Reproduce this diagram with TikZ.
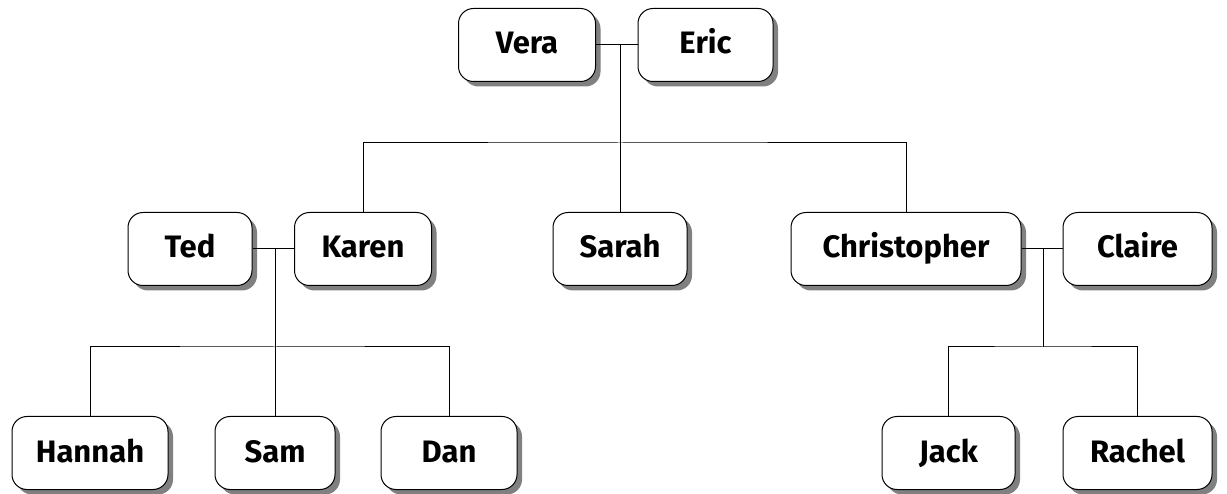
\documentclass[tikz,border=0pt]{standalone}
\usepackage{fontspec}
\setmainfont{Fira Sans}
\usetikzlibrary{shadows,calc}
\begin{document}
\begin{tikzpicture}[x=1pt,y=-1pt,
  person/.style={draw=black, line width=1pt, fill=white, rounded corners=15pt,
    minimum height=73pt, inner sep=0pt, text height=22pt, text depth=4pt,
    font=\fontsize{31}{34}\selectfont\bfseries,
    drop shadow={shadow xshift=5pt, shadow yshift=-5pt, fill=black!50, opacity=1}},
  link/.style={draw=black, line width=1pt}]
\useasboundingbox (0,0) rectangle (1227,494);
% generation 1
\node[person, minimum width=137pt] (Vera) at (527,45) {Vera};
\node[person, minimum width=135pt] (Eric) at (705.5,45) {Eric};
% generation 2
\node[person, minimum width=124pt] (Ted) at (190,249) {Ted};
\node[person, minimum width=137pt] (Karen) at (363,249) {Karen};
\node[person, minimum width=134pt] (Sarah) at (620,249) {Sarah};
\node[person, minimum width=230pt] (Christopher) at (906,249) {Christopher};
\node[person, minimum width=149pt] (Claire) at (1137.5,249) {Claire};
% generation 3
\node[person, minimum width=156pt] (Hannah) at (90,453) {Hannah};
\node[person, minimum width=120pt] (Sam) at (275,453) {Sam};
\node[person, minimum width=136pt] (Dan) at (449,453) {Dan};
\node[person, minimum width=133pt] (Jack) at (948.5,453) {Jack};
\node[person, minimum width=149pt] (Rachel) at (1137.5,453) {Rachel};
% junctions
\coordinate (m1) at (620,45);
\coordinate (j1) at (620,143);
\coordinate (m2) at (275,249);
\coordinate (j2) at (275,347);
\coordinate (m3) at (1043,249);
\coordinate (j3) at (1043,347);
% connectors
\draw[link] (Vera.east) -- (Eric.west);
\draw[link] (m1) -- (Sarah.north);
\draw[link] (Karen.north) |- (j1) -| (Christopher.north);
\draw[link] (Ted.east) -- (Karen.west);
\draw[link] (m2) -- (Sam.north);
\draw[link] (Hannah.north) |- (j2) -| (Dan.north);
\draw[link] (Christopher.east) -- (Claire.west);
\draw[link] (m3) -- (j3);
\draw[link] (Jack.north) |- (j3) -| (Rachel.north);
\end{tikzpicture}
\end{document}
